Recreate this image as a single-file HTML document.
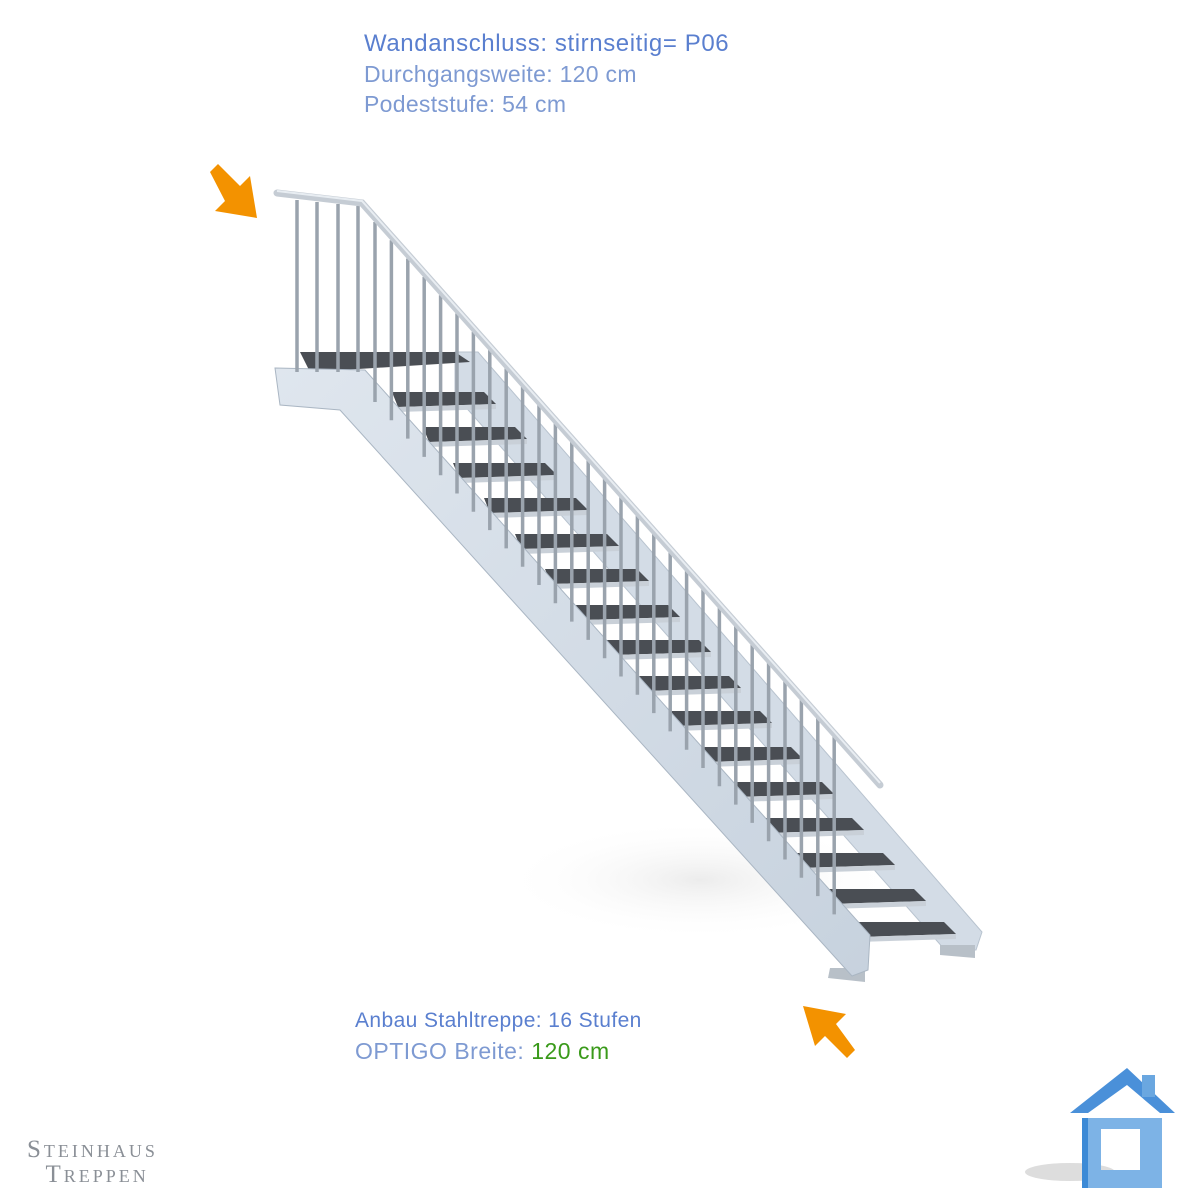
<!DOCTYPE html>
<html><head><meta charset="utf-8"><style>
html,body{margin:0;padding:0;background:#fff;}
body{width:1200px;height:1200px;position:relative;overflow:hidden;font-family:"Liberation Sans",sans-serif;}
.t{position:absolute;font-size:23px;color:#6f8fcf;white-space:nowrap;line-height:30px;}
</style></head><body>
<svg width="1200" height="1200" style="position:absolute;left:0;top:0">
<defs>
<linearGradient id="st" x1="0" y1="0" x2="1" y2="1"><stop offset="0" stop-color="#dfe6ee"/><stop offset="1" stop-color="#c7d2de"/></linearGradient>
<g id="tr"><polygon points="0,0 92,0 104,12 6,15" fill="#4a4e54"/><polygon points="6,15 104,12 104,17 6,20" fill="#c9d0d8"/></g>
<radialGradient id="sh" cx="0.5" cy="0.5" r="0.5"><stop offset="0" stop-color="#ececec"/><stop offset="1" stop-color="#fff" stop-opacity="0"/></radialGradient>
</defs>
<ellipse cx="700" cy="880" rx="200" ry="60" fill="url(#sh)"/>
<polygon points="455,352 478,352 982,932 976,950 945,950 455,395" fill="#d3dce6" stroke="#b8c3cf"/>
<polygon points="300,352 455,352 470,362 310,372" fill="#4a4e54"/>
<use href="#tr" x="392" y="392"/><use href="#tr" x="423" y="427"/><use href="#tr" x="453" y="463"/><use href="#tr" x="484" y="498"/>
<use href="#tr" x="515" y="534"/><use href="#tr" x="545" y="569"/><use href="#tr" x="576" y="605"/><use href="#tr" x="607" y="640"/>
<use href="#tr" x="637" y="676"/><use href="#tr" x="668" y="711"/><use href="#tr" x="699" y="747"/><use href="#tr" x="730" y="782"/>
<use href="#tr" x="760" y="818"/><use href="#tr" x="791" y="853"/><use href="#tr" x="822" y="889"/><use href="#tr" x="852" y="922"/>
<polygon points="830,968 865,968 865,982 828,978" fill="#b8c0c8"/>
<polygon points="940,945 975,945 975,958 940,955" fill="#b8c0c8"/>
<polygon points="275,368 365,370 870,935 868,970 852,976 340,410 280,405" fill="url(#st)" stroke="#aab6c3"/>
<path d="M375,222 v180 m16.4,-161.7 v180 m16.4,-161.7 v180 m16.4,-161.7 v180 m16.4,-161.7 v180 m16.4,-161.7 v180 m16.4,-161.7 v180 m16.4,-161.7 v180 m16.4,-161.7 v180 m16.4,-161.7 v180 m16.4,-161.7 v180 m16.4,-161.7 v180 m16.4,-161.7 v180 m16.4,-161.7 v180 m16.4,-161.7 v180 m16.4,-161.7 v180 m16.4,-161.7 v180 m16.4,-161.7 v180 m16.4,-161.7 v180 m16.4,-161.7 v180 m16.4,-161.7 v180 m16.4,-161.7 v180 m16.4,-161.7 v180 m16.4,-161.7 v180 m16.4,-161.7 v180 m16.4,-161.7 v180 m16.4,-161.7 v180 m16.4,-161.7 v180 m16.4,-161.7 v180" stroke="#9aa3ad" stroke-width="3.5" fill="none"/>
<path d="M297,200 V372 M317,202 V372 M338,204 V372 M358,206 V372" stroke="#9aa3ad" stroke-width="3.5" fill="none"/>
<path d="M277,193 L362,203 L880,785" stroke="#c5ccd4" stroke-width="7" fill="none" stroke-linecap="round"/>
<path d="M277,191 L362,201 L880,783" stroke="#e8edf2" stroke-width="2" fill="none"/>
<g fill="#f39200">
<polygon points="210,172 218,164 240,186 250,176 257,218 215,211 225,201"/>
<polygon points="855,1050 847,1058 825,1036 815,1046 803,1006 846,1014 836,1024"/>
</g>
<ellipse cx="1070" cy="1172" rx="45" ry="9" fill="#ddd"/>
<polygon points="1070,1113 1127,1068 1175,1113 1160,1113 1127,1085 1088,1113" fill="#4a90d9"/>
<rect x="1142" y="1075" width="13" height="22" fill="#6aa7e0"/>
<path d="M1082,1118 H1162 V1188 H1082 Z M1101,1129 V1170 H1140 V1129 Z" fill="#7db3e6" fill-rule="evenodd"/>
<rect x="1082" y="1118" width="6" height="70" fill="#3c8ad6"/>
</svg>
<div class="t" style="left:364px;top:29px;color:#5a7fcf;font-size:24px;letter-spacing:0.6px">Wandanschluss: stirnseitig= P06</div>
<div class="t" style="left:364px;top:59px;color:#7e9ad2;letter-spacing:0.3px">Durchgangsweite: 120 cm</div>
<div class="t" style="left:364px;top:89px;color:#7e9ad2;letter-spacing:0.3px">Podeststufe: 54 cm</div>
<div class="t" style="left:355px;top:1006px;font-size:21px;color:#5a7fcf;letter-spacing:0.4px">Anbau Stahltreppe: 16 Stufen</div>
<div class="t" style="left:355px;top:1036px;color:#7e9ad2;letter-spacing:0.5px">OPTIGO Breite: <span style="color:#3a9a1a">120 cm</span></div>
<div style="position:absolute;left:27px;top:1137px;font-family:'Liberation Serif',serif;font-size:25px;color:#8a8f96;letter-spacing:3px;line-height:25px;font-variant:small-caps">Steinhaus<br>&nbsp;&nbsp;Treppen</div>
</body></html>
